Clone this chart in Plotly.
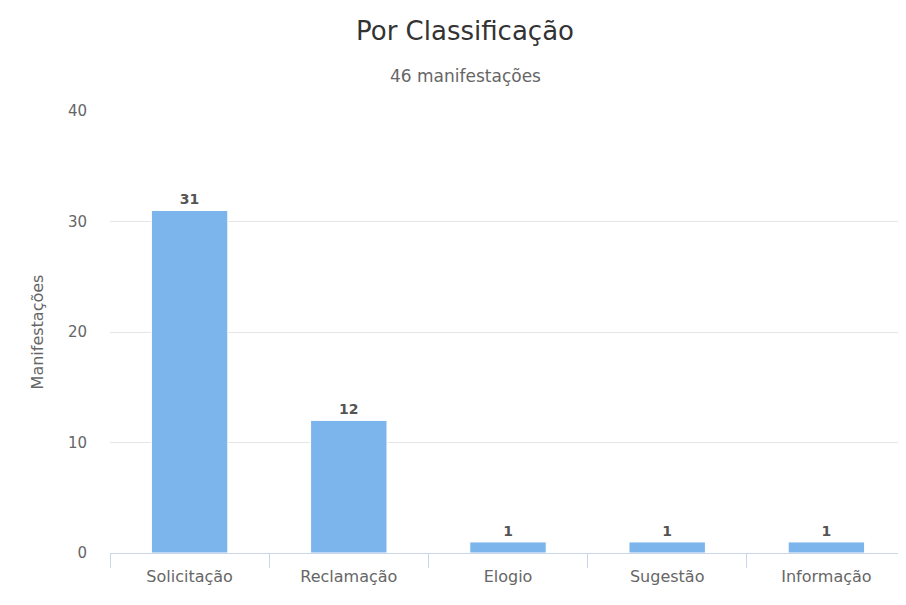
import plotly.graph_objects as go

categories = ["Solicitação", "Reclamação", "Elogio", "Sugestão", "Informação"]
values = [31, 12, 1, 1, 1]
y_ticks = [0, 10, 20, 30, 40]

FONT = "DejaVu Sans"
# page body has an 8px margin, so the figure is sized to fit the window
OFF = 8
W, H = 906 - OFF, 605 - OFF
L, R, T, B = 110 - OFF, 0, 111 - OFF, 52
cx = 465 - OFF  # horizontal center of title block in pixels

fig = go.Figure(go.Bar(
    x=categories, y=values,
    marker=dict(color="#7cb5ec", line=dict(color="#ffffff", width=1)),
    width=0.48,
    text=[str(v) for v in values], textposition="outside",
    textfont=dict(family=FONT, size=14, color="#555555"),
    texttemplate="<b>%{text}</b>",
    cliponaxis=False,
))

fig.update_layout(
    width=W, height=H,
    margin=dict(l=L, r=R, t=T, b=B, autoexpand=False),
    plot_bgcolor="#ffffff", paper_bgcolor="#ffffff",
    showlegend=False,
    title=dict(text="Por Classificação", x=cx / W, xanchor="center", y=1 - (31 - OFF) / H, yanchor="middle",
               font=dict(family=FONT, size=26, color="#333333")),
    annotations=[dict(text="46 manifestações", xref="paper", yref="paper",
                      x=(cx - L) / (W - L - R), y=(H - (76 - OFF) - B) / (H - T - B),
                      xanchor="center", yanchor="middle", showarrow=False,
                      font=dict(family=FONT, size=17, color="#666666"))],
)
fig.update_xaxes(
    automargin=False,
    showline=True, linecolor="#ccd6eb", linewidth=1,
    ticks="outside", tickson="boundaries", ticklen=14, tickcolor="#ccd6eb",
    tickfont=dict(family=FONT, size=16, color="#666666"),
    ticklabelstandoff=9,
    showgrid=False,
)
fig.update_yaxes(
    automargin=False,
    range=[0, 40], tickvals=y_ticks,
    showgrid=True, gridcolor="#e6e6e6", gridwidth=1,
    zeroline=False, showline=False,
    tickfont=dict(family=FONT, size=15, color="#666666"),
    ticklabelstandoff=22,
    title=dict(text="Manifestações", font=dict(family=FONT, size=16, color="#666666"), standoff=20),
)

fig.write_html("out.html")
